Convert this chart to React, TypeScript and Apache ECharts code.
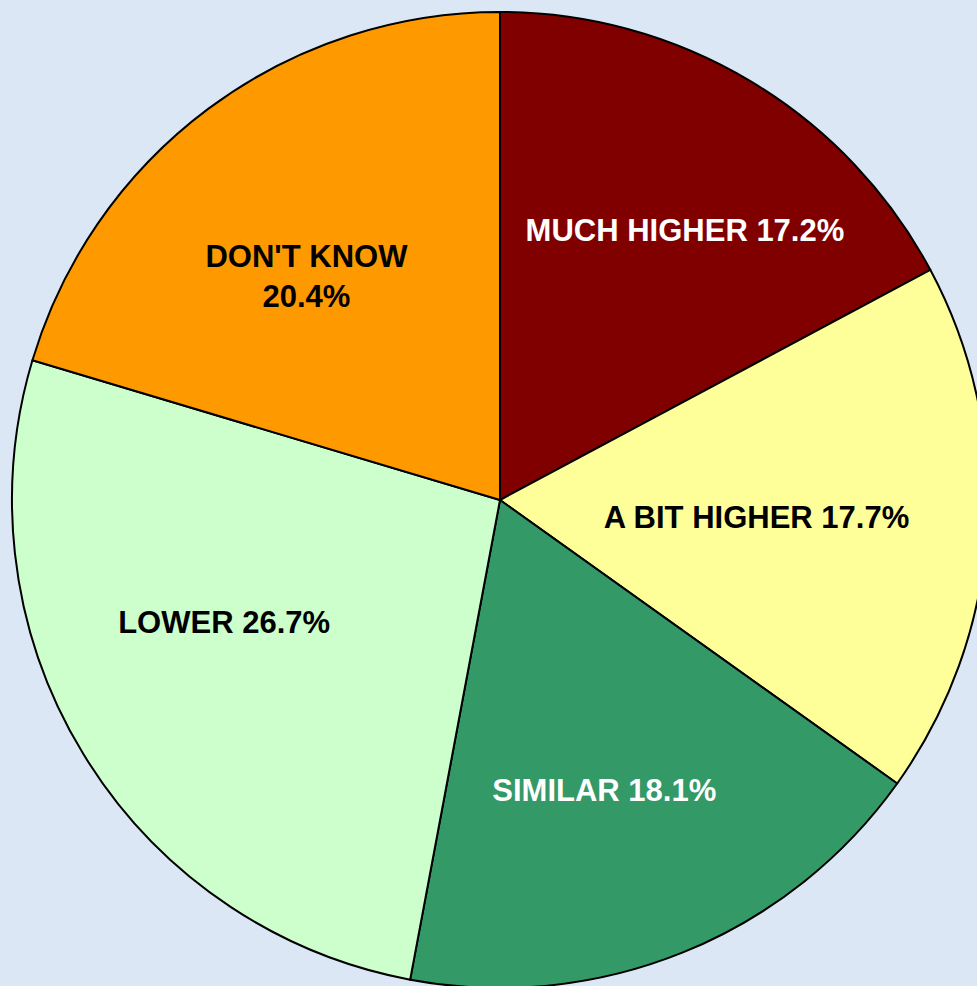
import React, { useEffect, useRef } from "react";
import * as echarts from "echarts";

const categories = ["MUCH HIGHER", "A BIT HIGHER", "SIMILAR", "LOWER", "DON'T KNOW"];
const values = [17.2, 17.7, 18.1, 26.7, 20.4];
const sliceColors = ["#800000", "#ffff99", "#339966", "#ccffcc", "#ff9900"];
const labelColors = ["#ffffff", "#000000", "#ffffff", "#000000", "#000000"];
const labelSeparators = [" ", " ", " ", " ", "\n"];
// label nudges (pixels) from ECharts' default inside position
const labelDx = [58, 10, 12, -65, -46];
const labelDy = [-58, 2, 61, -6, -25];

export default function App() {
  const ref = useRef<HTMLDivElement>(null);
  useEffect(() => {
    if (!ref.current) return;
    const chart = echarts.init(ref.current, undefined, { renderer: "svg" });
    chart.setOption({
      animation: false,
      backgroundColor: "#dbe7f5",
      series: [
        {
          type: "pie",
          center: [500, 500],
          radius: 488,
          startAngle: 90,
          clockwise: true,
          avoidLabelOverlap: false,
          itemStyle: { borderColor: "#000000", borderWidth: 2 },
          label: {
            show: true,
            position: "inside",
            fontFamily: "Liberation Sans, Arial, sans-serif",
            fontWeight: "bold",
            fontSize: 31,
            lineHeight: 40,
            align: "center",
            formatter: (p: any) =>
              `${p.name}${labelSeparators[p.dataIndex]}${Number(p.value).toFixed(1)}%`,
          },
          labelLine: { show: false },
          emphasis: { disabled: true },
          labelLayout: (p: any) => ({ dx: labelDx[p.dataIndex], dy: labelDy[p.dataIndex] }),
          data: categories.map((name, i) => ({
            name,
            value: values[i],
            itemStyle: { color: sliceColors[i] },
            label: { color: labelColors[i] },
          })),
        },
      ],
    });
    return () => chart.dispose();
  }, []);
  return (
    <div
      ref={ref}
      style={{ position: "fixed", left: 0, top: 0, width: 977, height: 986 }}
    />
  );
}
